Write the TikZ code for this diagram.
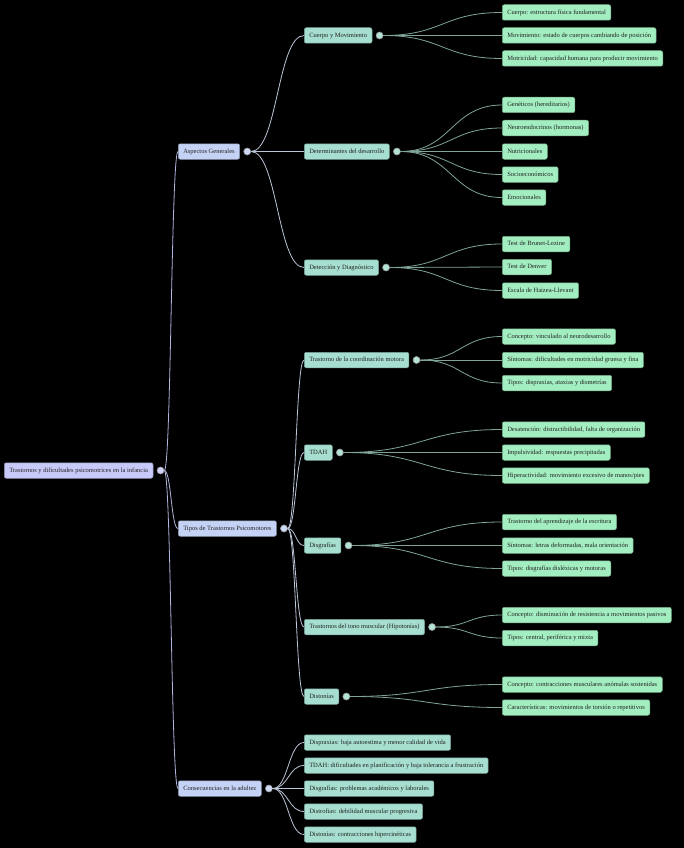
\documentclass[tikz,border=0pt]{standalone}
\usepackage{fontspec}
\setmainfont{Liberation Serif}
\usetikzlibrary{positioning,calc}

\definecolor{rootfill}{RGB}{199,201,248}
\definecolor{topicfill}{RGB}{196,211,245}
\definecolor{subfill}{RGB}{166,222,208}
\definecolor{leaffill}{RGB}{163,238,192}
\definecolor{rootline}{RGB}{178,182,222}
\definecolor{topicline}{RGB}{188,198,216}
\definecolor{subline}{RGB}{128,164,154}
\definecolor{inktext}{RGB}{34,34,34}

\newlength\padw
\newcommand\padtext[1]{\settowidth{\padw}{#1}#1\hspace{0.11\padw}}

\begin{document}
\begin{tikzpicture}[x=1pt,y=-1pt,
  box/.style={draw,line width=0.5pt,rounded corners=2pt,anchor=west,
    minimum height=15.5pt,inner xsep=5pt,inner ysep=0pt,text height=4.6pt,
    text depth=1.4pt,text=inktext,font=\fontsize{6.5}{7.5}\selectfont},
  rootbox/.style={box,fill=rootfill,draw=rootfill!70!black},
  topicbox/.style={box,fill=topicfill,draw=topicfill!70!black},
  subbox/.style={box,fill=subfill,draw=subfill!70!black},
  leafbox/.style={box,fill=leaffill,draw=leaffill!70!black},
  knob/.style={circle,minimum size=7pt,inner sep=0pt,line width=0.6pt,draw=gray!80},
  link/.style={line width=0.8pt,to path={let \p1=(\tikztostart),\p2=(\tikztotarget) in
    .. controls ({(\x1+\x2)/2},\y1) and ({(\x1+\x2)/2},\y2) .. (\tikztotarget)}}]
	\fill[black] (0,0) rectangle (684,848);

	% root and main branches
	\node[rootbox] (root) at (4,470.5) {\padtext{Trastornos y dificultades psicomotrices en la infancia}};
	\node[topicbox] (asp) at (178,151.5) {\padtext{Aspectos Generales}};
	\node[topicbox] (tipos) at (178,528.5) {\padtext{Tipos de Trastornos Psicomotores}};
	\node[topicbox] (cons) at (178,788.5) {\padtext{Consecuencias en la adultez}};

	% second level
	\node[subbox] (cuerpo) at (304,35.5) {\padtext{Cuerpo y Movimiento}};
	\node[subbox] (determ) at (304,151.5) {\padtext{Determinantes del desarrollo}};
	\node[subbox] (detec) at (304,267.5) {\padtext{Detección y Diagnóstico}};
	\node[subbox] (coord) at (304,360) {\padtext{Trastorno de la coordinación motora}};
	\node[subbox] (tdah) at (304,452.5) {\padtext{TDAH}};
	\node[subbox] (disgr) at (304,545.5) {\padtext{Disgrafías}};
	\node[subbox] (tono) at (304,627) {\padtext{Trastornos del tono muscular (Hipotonías)}};
	\node[subbox] (disto) at (304,696.5) {\padtext{Distonías}};
	\node[subbox] (con1) at (304,742.5) {\padtext{Dispraxias: baja autoestima y menor calidad de vida}};
	\node[subbox] (con2) at (304,765.5) {\padtext{TDAH: dificultades en planificación y baja tolerancia a frustración}};
	\node[subbox] (con3) at (304,788.5) {\padtext{Disgrafías: problemas académicos y laborales}};
	\node[subbox] (con4) at (304,811.5) {\padtext{Distrofias: debilidad muscular progresiva}};
	\node[subbox] (con5) at (304,834.5) {\padtext{Distonías: contracciones hipercinéticas}};

	% leaves
	\node[leafbox] (cue1) at (502,12.5) {\padtext{Cuerpo: estructura física fundamental}};
	\node[leafbox] (cue2) at (502,35.5) {\padtext{Movimiento: estado de cuerpos cambiando de posición}};
	\node[leafbox] (cue3) at (502,58.5) {\padtext{Motricidad: capacidad humana para producir movimiento}};
	\node[leafbox] (det1) at (502,105) {\padtext{Genéticos (hereditarios)}};
	\node[leafbox] (det2) at (502,128) {\padtext{Neuroendocrinos (hormonas)}};
	\node[leafbox] (det3) at (502,151.5) {\padtext{Nutricionales}};
	\node[leafbox] (det4) at (502,174.5) {\padtext{Socioeconómicos}};
	\node[leafbox] (det5) at (502,197.5) {\padtext{Emocionales}};
	\node[leafbox] (dia1) at (502,244) {\padtext{Test de Brunet-Lezine}};
	\node[leafbox] (dia2) at (502,267) {\padtext{Test de Denver}};
	\node[leafbox] (dia3) at (502,290.5) {\padtext{Escala de Haizea-Llevant}};
	\node[leafbox] (coo1) at (502,336.5) {\padtext{Concepto: vinculado al neurodesarrollo}};
	\node[leafbox] (coo2) at (502,360) {\padtext{Síntomas: dificultades en motricidad gruesa y fina}};
	\node[leafbox] (coo3) at (502,383) {\padtext{Tipos: dispraxias, ataxias y dismetrías}};
	\node[leafbox] (tda1) at (502,429.5) {\padtext{Desatención: distractibilidad, falta de organización}};
	\node[leafbox] (tda2) at (502,452.5) {\padtext{Impulsividad: respuestas precipitadas}};
	\node[leafbox] (tda3) at (502,475.5) {\padtext{Hiperactividad: movimiento excesivo de manos/pies}};
	\node[leafbox] (dis1) at (502,522) {\padtext{Trastorno del aprendizaje de la escritura}};
	\node[leafbox] (dis2) at (502,545.5) {\padtext{Síntomas: letras deformadas, mala orientación}};
	\node[leafbox] (dis3) at (502,568.5) {\padtext{Tipos: disgrafías disléxicas y motoras}};
	\node[leafbox] (ton1) at (502,615) {\padtext{Concepto: disminución de resistencia a movimientos pasivos}};
	\node[leafbox] (ton2) at (502,638) {\padtext{Tipos: central, periférica y mixta}};
	\node[leafbox] (dst1) at (502,684.5) {\padtext{Concepto: contracciones musculares anómalas sostenidas}};
	\node[leafbox] (dst2) at (502,707.5) {\padtext{Características: movimientos de torsión o repetitivos}};

	% knobs
	\node[knob,fill=rootfill!85!white,right=3.5pt of root] (rootk) {};
	\foreach \n in {asp,tipos,cons}
		\node[knob,fill=topicfill!85!white,right=3.5pt of \n] (\n k) {};
	\foreach \n in {cuerpo,determ,detec,coord,tdah,disgr,tono,disto}
		\node[knob,fill=subfill!85!white,right=3.5pt of \n] (\n k) {};

	% connectors
	\foreach \c in {asp,tipos,cons}
		\draw[link,rootline] (rootk.east) to (\c.west);
	\foreach \c in {cuerpo,determ,detec}
		\draw[link,topicline] (aspk.east) to (\c.west);
	\foreach \c in {coord,tdah,disgr,tono,disto}
		\draw[link,topicline] (tiposk.east) to (\c.west);
	\foreach \c in {con1,con2,con3,con4,con5}
		\draw[link,topicline] (consk.east) to (\c.west);
	\foreach \c in {cue1,cue2,cue3}
		\draw[link,subline] (cuerpok.east) to (\c.west);
	\foreach \c in {det1,det2,det3,det4,det5}
		\draw[link,subline] (determk.east) to (\c.west);
	\foreach \c in {dia1,dia2,dia3}
		\draw[link,subline] (deteck.east) to (\c.west);
	\foreach \c in {coo1,coo2,coo3}
		\draw[link,subline] (coordk.east) to (\c.west);
	\foreach \c in {tda1,tda2,tda3}
		\draw[link,subline] (tdahk.east) to (\c.west);
	\foreach \c in {dis1,dis2,dis3}
		\draw[link,subline] (disgrk.east) to (\c.west);
	\foreach \c in {ton1,ton2}
		\draw[link,subline] (tonok.east) to (\c.west);
	\foreach \c in {dst1,dst2}
		\draw[link,subline] (distok.east) to (\c.west);
\end{tikzpicture}
\end{document}
